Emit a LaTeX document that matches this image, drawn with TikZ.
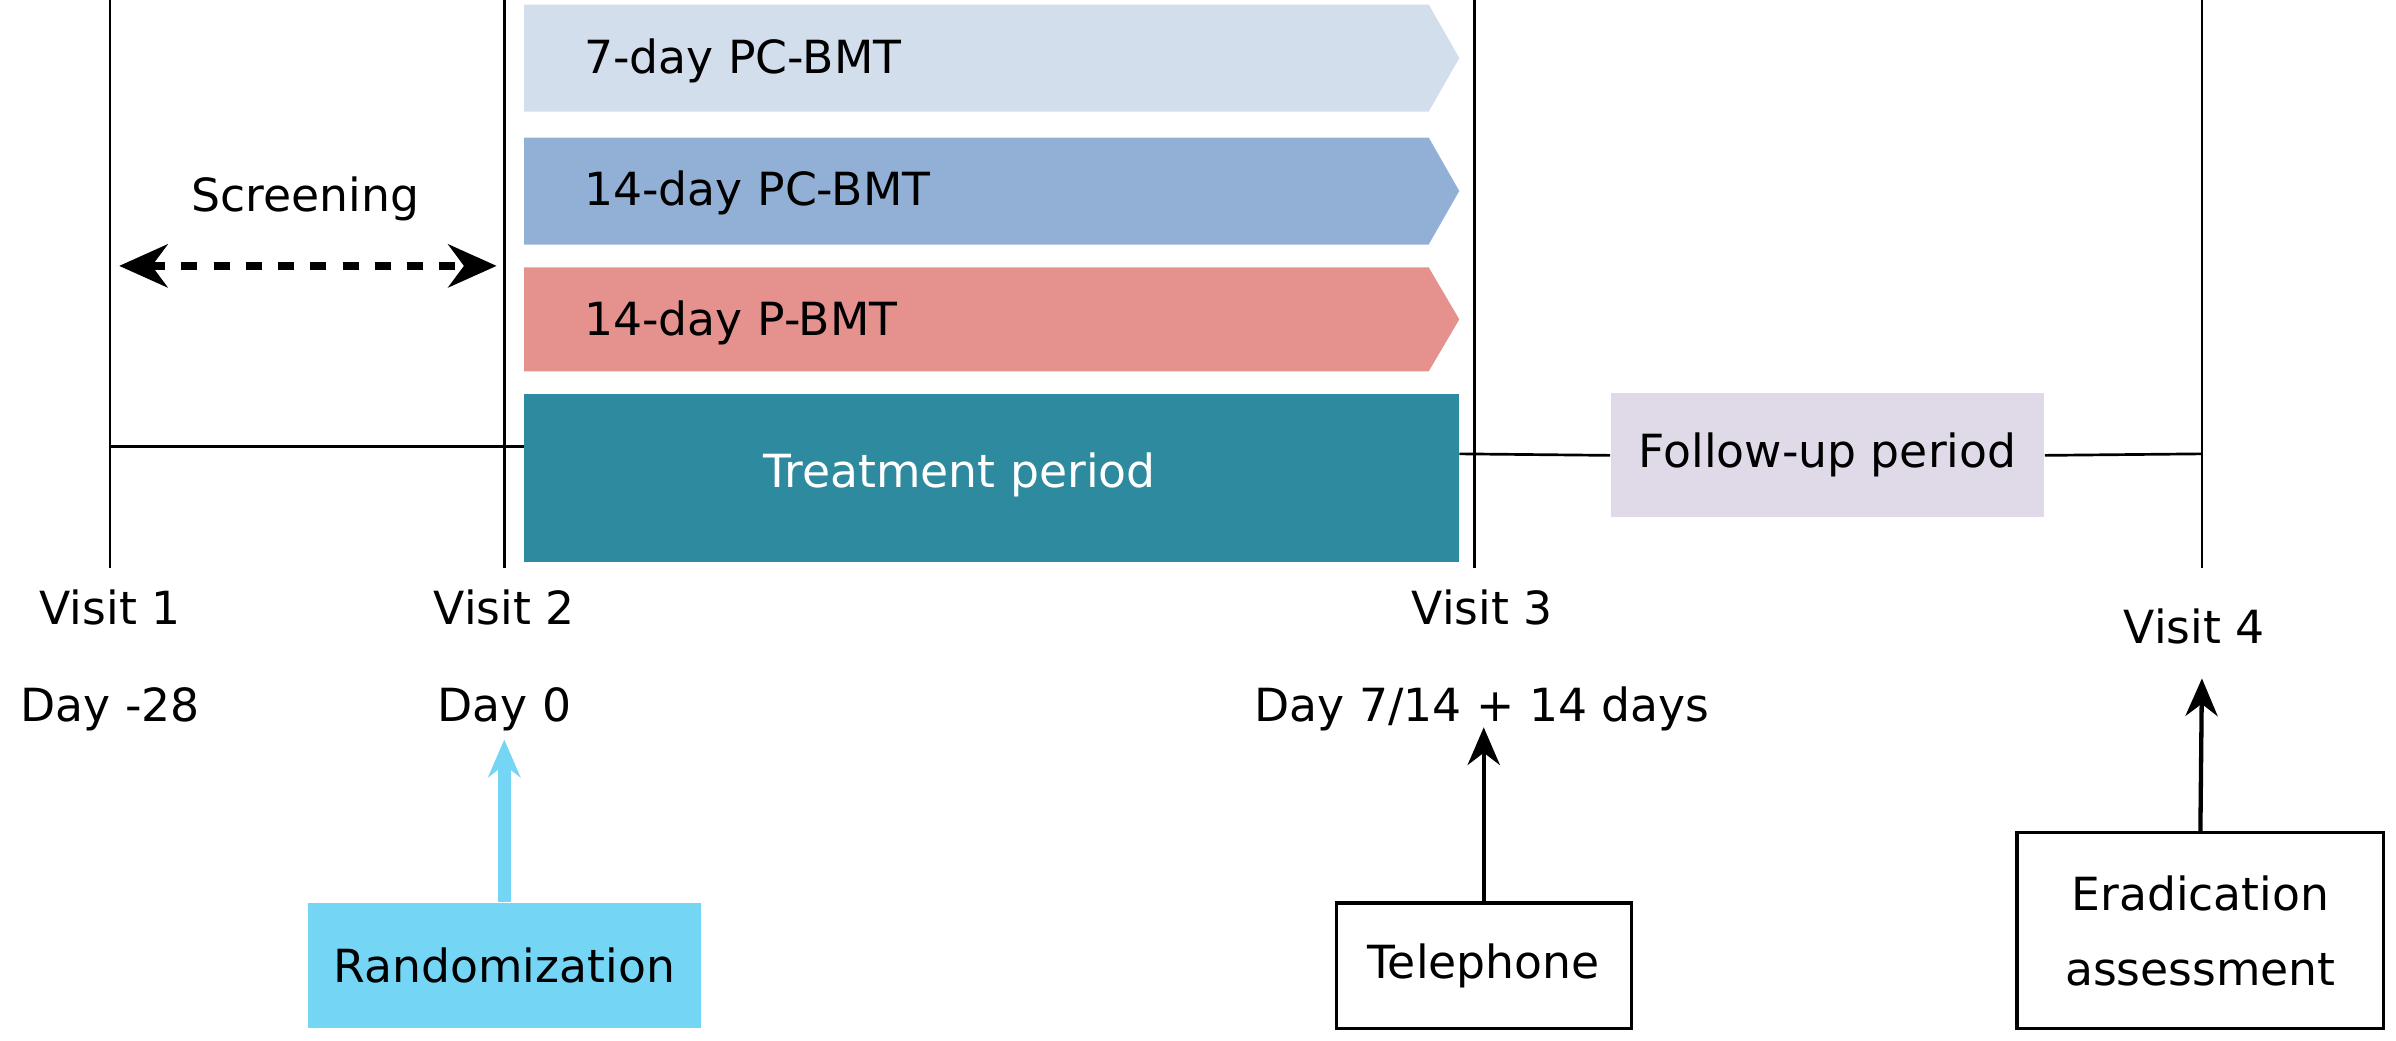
\documentclass[tikz,border=0pt]{standalone}
\usepackage{fontspec}
\setmainfont{DejaVu Sans}
\usetikzlibrary{arrows.meta}
\definecolor{armA}{HTML}{D3DEEC}
\definecolor{armB}{HTML}{92B0D6}
\definecolor{armC}{HTML}{E5918D}
\definecolor{treat}{HTML}{2E8A9E}
\definecolor{follow}{HTML}{E0DAE8}
\definecolor{rand}{HTML}{75D5F5}
\tikzset{
  arm/.style={anchor=west,font=\fontsize{8.5}{10}\selectfont},
  lbl/.style={font=\fontsize{8.5}{10}\selectfont,align=center},
  boxed/.style={draw,line width=0.6pt,minimum height=0.82cm,align=center,font=\fontsize{8.5}{10}\selectfont},
  up/.style={-{Stealth[length=7pt,width=6pt]},line width=0.8pt}
}
\begin{document}
\begin{tikzpicture}[x=0.01cm,y=-0.01cm]
\useasboundingbox (0,0) rectangle (1568,681);
% time lines
\foreach \xv in {72,330,965,1441}
  \draw[line width=0.5pt] (\xv,0) -- (\xv,372);
% arms
\fill[armA] (343,3) -- (935,3) -- (955,38) -- (935,73) -- (343,73) -- cycle;
\fill[armB] (343,90) -- (935,90) -- (955,125) -- (935,160) -- (343,160) -- cycle;
\fill[armC] (343,175) -- (935,175) -- (955,209) -- (935,243) -- (343,243) -- cycle;
\node[arm] (a1) at (370,40) {7-day PC-BMT};
\node[arm] (a2) at (370,126) {14-day PC-BMT};
\node[arm] (a3) at (370,211) {14-day P-BMT};
\draw[line width=0.5pt] (72,292) -- (343,292);
\fill[treat] (343,258) rectangle (955,368);
\node[lbl,text=white] (tp) at (628,311) {Treatment period};
% screening
\node[lbl] (scr) at (200,130) {Screening};
\draw[{Stealth[length=9pt,width=8pt]}-{Stealth[length=9pt,width=8pt]},dashed,line width=1.4pt] (78,174) -- (325,174);
% follow-up
\node[fill=follow,minimum width=2.83cm,minimum height=0.81cm,font=\fontsize{8.5}{10}\selectfont] (fu) at (1196,298) {Follow-up period};
\draw[line width=0.5pt] (955,297) -- (fu.west);
\draw[line width=0.5pt] (fu.east) -- (1441,297);
% visits
\node[lbl] (v1) at (72,432) {Visit 1\\[8pt]Day -28};
\node[lbl] (v2) at (330,432) {Visit 2\\[8pt]Day 0};
\node[lbl] (v3) at (970,432) {Visit 3\\[8pt]Day 7/14 + 14 days};
\node[lbl] (v4) at (1436,410) {Visit 4};
% bottom boxes
\node[fill=rand,minimum width=2.57cm,minimum height=0.82cm,font=\fontsize{8.5}{10}\selectfont] (rnd) at (330,632) {Randomization};
\node[boxed,minimum width=1.93cm] (tel) at (971,632) {Telephone};
\node[boxed,minimum width=2.4cm,minimum height=1.28cm] (era) at (1440,609) {Eradication\\[4pt]assessment};
\draw[up,rand,line width=2.5pt] (rnd.north) -- (330,484);
\draw[up] (tel.north) -- (971,476);
\draw[up] (era.north) -- (1441,444);
\end{tikzpicture}
\end{document}
